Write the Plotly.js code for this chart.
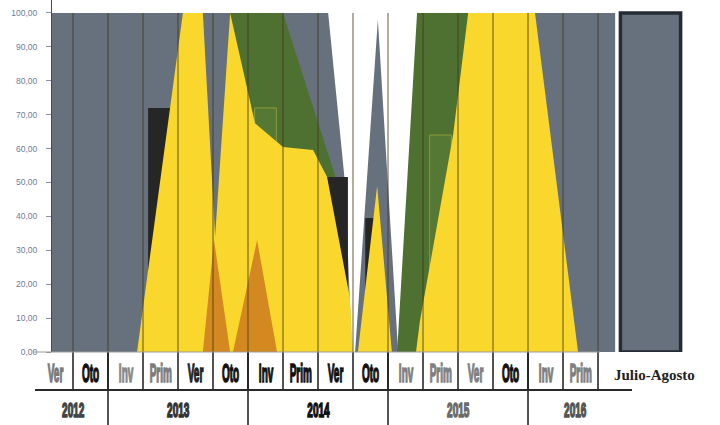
<!DOCTYPE html>
<html><head><meta charset="utf-8">
<script src="https://cdn.plot.ly/plotly-3.0.1.min.js"></script>
<style>
body{margin:0;background:#fff;}
#chart{width:720px;height:425px;}
</style></head><body><div id="chart"></div><script>
// ---- categories ----
const seasons = ['Ver','Oto','Inv','Prim','Ver','Oto','Inv','Prim','Ver','Oto','Inv','Prim','Ver','Oto','Inv','Prim'];
const years = ['2012','2013','2014','2015','2016'];
const yearCenters = [0.5, 3.5, 7.5, 11.5, 14.85];
const yearBreaks = [1.5, 5.5, 9.5, 13.5];
const extraLabel = 'Julio-Agosto';
const extraPos = 17;
const extraPct = 100;
const yTicks = [0,10,20,30,40,50,60,70,80,90,100];

// ---- area series (time in season index, percent) ----
const grayT   = [-0.5, 7.79, 8.27, 8.47, 8.56, 9.21, 9.79, 13.2, 13.4, 15.99, 15.99];
const grayPct = [100, 100, 50, 0, 0, 98, 0, 0, 100, 100, 0];
const greenT   = [4.5, 4.99, 6.50, 7.99, 8.41, 9.76, 10.33, 11.79, 12.0];
const greenPct = [0, 100, 100, 52, 0, 0, 100, 100, 0];
const yellowT   = [2.33, 3.64, 4.21, 4.56, 4.99, 5.70, 6.50, 7.36, 7.76, 8.41, 8.50, 8.64, 9.19, 9.61, 10.30, 10.41, 11.36, 11.79, 13.70, 14.93];
const yellowPct = [0, 100, 100, 34, 100, 67.5, 60.5, 59.6, 51.6, 16, 0, 0, 49, 0, 0, 9, 64, 100, 100, 0];
const orangeT   = [4.21, 4.53, 4.99, 5.07, 5.76, 6.33];
const orangePct = [0, 33, 0, 0, 33, 0];
// ---- bar series ----
const blackIdx = [3, 8, 9];
const blackPct = [72, 51.6, 39.5];
const greenBarIdx = [6, 11];
const greenBarPct = [72, 64];

// ---- styles ----
const C = {gray:'#67717d', green:'#4e7132', greenBar:'#557834', black:'#262626', yellow:'#f9d72d', orange:'#d3891f', jaBorder:'#252c35'};
const seasonColors = ['#7a7a7a','#111','#8a8a8a','#7c7c7c','#222','#111','#111','#111','#111','#111','#808080','#808080','#808080','#111','#808080','#808080'];
const yearColors = ['#444','#333','#111','#6a6a6a','#555'];
const xr = [-0.1, 18.414];
const yr = [0, 103.83];
const area = (x, y, color, xa, ya) => ({type:'scatter', mode:'lines', x, y, fill:'tozeroy', fillcolor:color, line:{width:0, color:color}, hoverinfo:'skip', xaxis:xa, yaxis:ya});

const data = [
  area(grayT, grayPct, C.gray, 'x', 'y'),
  area(greenT, greenPct, C.green, 'x', 'y'),
  {type:'bar', x:blackIdx, y:blackPct, width:[0.71,0.71,0.3], marker:{color:C.black, line:{width:0}}, xaxis:'x2', yaxis:'y2', hoverinfo:'skip'},
  {type:'bar', x:greenBarIdx, y:greenBarPct, width:0.62, marker:{color:C.greenBar, line:{width:1, color:'#8f9a3a'}}, xaxis:'x2', yaxis:'y2', hoverinfo:'skip'},
  {type:'bar', x:[extraPos], y:[extraPct], width:1.72, marker:{color:C.gray, line:{width:3.5, color:C.jaBorder}}, xaxis:'x2', yaxis:'y2', hoverinfo:'skip'},
  area(yellowT, yellowPct, C.yellow, 'x3', 'y3'),
  area(orangeT, orangePct, C.orange, 'x3', 'y3')
];

const shapes = [];
const annotations = [];
const squeeze = [];
const rowY = (352-390)/352, botY = -0.21;
for (let k = 0; k < seasons.length; k++) {
  shapes.push({type:'line', xref:'x', yref:'y', x0:k+0.5, x1:k+0.5, y0:0, y1:100, layer:'above', line:{color:'rgba(70,55,25,0.55)', width:1.5}});
  shapes.push({type:'line', xref:'x', yref:'paper', x0:k+0.5, x1:k+0.5, y0:0, y1:rowY, line:{color:'#1a1a1a', width:1.5}});
  annotations.push({xref:'x', yref:'paper', x:k, y:(352-373)/352, text:'<b>'+seasons[k]+'</b>', showarrow:false, yanchor:'middle', xanchor:'center',
    font:{family:'Liberation Sans, Arial, sans-serif', size:25, color:seasonColors[k]}});
  squeeze.push(0.4);
}
yearBreaks.forEach(b => shapes.push({type:'line', xref:'x', yref:'paper', x0:b, x1:b, y0:0, y1:botY, line:{color:'#1a1a1a', width:1.5}}));
const px = p => (p-52)/648;
shapes.push({type:'line', xref:'paper', yref:'paper', x0:px(33), x1:px(600), y0:0, y1:0, line:{color:'#9a9a9a', width:1}});
shapes.push({type:'line', xref:'paper', yref:'paper', x0:px(35), x1:px(632), y0:rowY, y1:rowY, line:{color:'#2a2a2a', width:2}});
years.forEach((yv,i) => {
  annotations.push({xref:'x', yref:'paper', x:yearCenters[i], y:(352-410)/352, text:'<b>'+yv+'</b>', showarrow:false, yanchor:'middle',
    font:{family:'Liberation Sans, Arial, sans-serif', size:20, color:yearColors[i]}});
  squeeze.push(0.5);
});
annotations.push({xref:'x', yref:'paper', x:17.1, y:(352-375)/352, text:'<b>'+extraLabel+'</b>', showarrow:false, yanchor:'middle',
  font:{family:'Liberation Serif, serif', size:15, color:'#222'}});
squeeze.push(1);

const layout = {
  width:720, height:425, margin:{l:52, r:20, t:0, b:73},
  paper_bgcolor:'#fff', plot_bgcolor:'#fff', showlegend:false, barmode:'overlay', separators:',.',
  xaxis:{range:xr, showgrid:false, zeroline:false, showticklabels:false, ticks:'', showline:false},
  xaxis2:{overlaying:'x', range:xr, visible:false},
  xaxis3:{overlaying:'x', range:xr, visible:false},
  yaxis:{range:yr, tickvals:yTicks, tickformat:'.2f', ticks:'outside', ticklen:5, tickcolor:'#8a93a3', ticklabelstandoff:7,
    tickfont:{family:'Liberation Sans, sans-serif', size:8.5, color:'#6f7b96'}, showgrid:false, zeroline:false, showline:true, linecolor:'#4a4a4a', linewidth:1},
  yaxis2:{overlaying:'y', range:yr, visible:false},
  yaxis3:{overlaying:'y', range:yr, visible:false},
  shapes, annotations
};
Plotly.newPlot('chart', data, layout, {displayModeBar:false, staticPlot:true}).then(() => {
  // condensed, heavy look for the season / year labels
  document.querySelectorAll('#chart g.annotation').forEach(g => {
    const i = +g.getAttribute('data-index');
    const s = squeeze[i];
    if (!s || s === 1) return;
    const t = g.querySelector('text.annotation-text');
    if (!t) return;
    const b = t.getBBox();
    const cx = b.x + b.width / 2;
    t.setAttribute('transform', `translate(${cx},0) scale(${s},1) translate(${-cx},0)`);
    t.style.stroke = t.style.fill;
    t.style.strokeWidth = '1.6px';
  });
});
</script></body></html>
